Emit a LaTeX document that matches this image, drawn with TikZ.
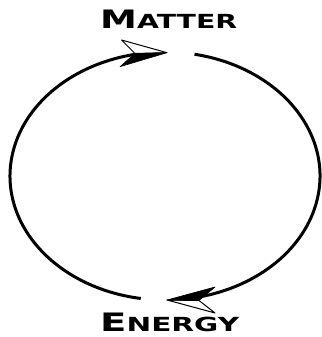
\documentclass[tikz,border=0pt]{standalone}
\usepackage{fontspec}
\setmainfont{DejaVu Sans}
\newcommand{\bigsc}[2]{{\bfseries\fontsize{20}{20}\selectfont #1\fontsize{15.3}{15}\selectfont #2}}
\begin{document}
\begin{tikzpicture}[x=1pt,y=1pt,
  cyclearc/.style={line width=3pt,black},
  headblack/.style={fill=black,draw=black,line width=0.6pt,line join=round},
  headwhite/.style={fill=white,draw=black,line width=1pt,line join=round},
  lbl/.style={inner sep=0pt,anchor=south west}]
\useasboundingbox (0,0) rectangle (321,337);
% labels
\node[lbl] (matter) at (100,308) {\resizebox{137pt}{18.5pt}{\bigsc{M}{ATTER}}};
\node[lbl] (energy) at (100,5) {\resizebox{139pt}{18.5pt}{\bigsc{E}{NERGY}}};
% arcs
\draw[cyclearc] (165,161) ++(261:155 and 124) arc[start angle=261,end angle=100,x radius=155,y radius=124];
\draw[cyclearc] (165,161) ++(79:155 and 124) arc[start angle=79,end angle=-78,x radius=155,y radius=124];
% top arrowhead
\coordinate (t1) at (167,284.3);
\coordinate (u1) at (121.5,297);
\coordinate (l1) at (120,270.3);
\coordinate (n1) at (135,283.5);
\filldraw[headwhite] (t1) -- (u1) -- (n1) -- cycle;
\filldraw[headblack] (t1) -- (n1) -- (l1) -- cycle;
% bottom arrowhead
\coordinate (t2) at (167,37);
\coordinate (u2) at (215,50);
\coordinate (l2) at (215,24);
\coordinate (n2) at (199,36.5);
\filldraw[headwhite] (t2) -- (l2) -- (n2) -- cycle;
\filldraw[headblack] (t2) -- (n2) -- (u2) -- cycle;
\end{tikzpicture}
\end{document}
